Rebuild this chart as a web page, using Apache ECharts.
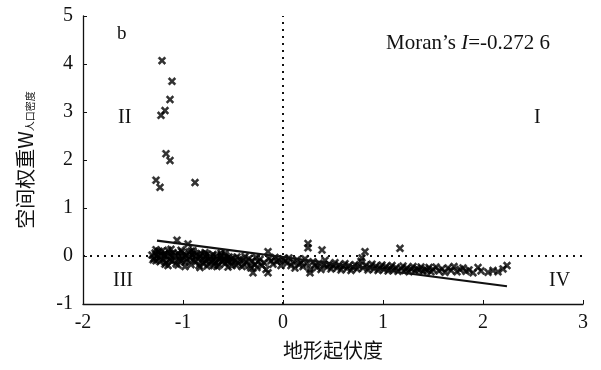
<!DOCTYPE html>
<html><head><meta charset="utf-8">
<script src="https://cdn.jsdelivr.net/npm/echarts@6/dist/echarts.min.js"></script>
<style>html,body{margin:0;padding:0;background:#fff}#c{width:601px;height:370px}</style>
</head><body><div id="c"></div>
<script>
// Outlier points (upper-left quadrant II)
const outX = [-1.21,-1.11,-1.13,-1.18,-1.22,-1.17,-1.13,-1.27,-1.23,-0.88];
const outY = [4.07,3.64,3.26,3.03,2.93,2.13,1.99,1.58,1.43,1.53];
// Main cluster points
const clX = [-1.31,-1.29,-1.28,-1.27,-1.26,-1.25,-1.24,-1.23,-1.22,-1.21,-1.2,-1.19,-1.18,-1.17,-1.16,-1.15,-1.14,-1.13,-1.12,-1.11,-1.1,-1.09,-1.08,-1.07,-1.06,-1.05,-1.04,-1.03,-1.02,-1.01,-1.0,
-0.99,-0.98,-0.97,-0.96,-0.95,-0.94,-0.93,-0.92,-0.91,-0.9,-0.89,-0.88,-0.87,-0.86,-0.85,-0.84,-0.83,-0.82,-0.81,-0.8,-0.79,-0.78,-0.77,-0.76,-0.75,-0.74,-0.73,-0.72,-0.71,-0.7,-0.69,-0.68,-0.67,-0.66,-0.65,-0.64,-0.63,-0.62,-0.61,-0.6,-0.59,-0.58,-0.57,-0.56,-0.55,-0.54,-0.53,-0.52,-0.51,-0.5,
-0.48,-0.46,-0.45,-0.43,-0.41,-0.4,-0.38,-0.36,-0.34,-0.32,-0.31,-0.3,-0.28,-0.27,-0.25,-0.23,-0.21,-0.19,-0.17,-0.15,-0.15,-0.14,-0.12,-0.1,-0.08,-0.06,-0.04,-0.02,0.0,
0.02,0.04,0.06,0.08,0.1,0.12,0.14,0.16,0.18,0.2,0.22,0.24,0.25,0.25,0.27,0.27,0.3,0.32,0.34,0.36,0.38,0.39,0.41,0.42,0.44,0.46,0.48,0.5,
0.52,0.54,0.56,0.58,0.6,0.62,0.64,0.66,0.68,0.7,0.72,0.74,0.76,0.78,0.79,0.8,0.82,0.83,0.85,0.87,0.89,0.91,0.93,0.95,0.97,0.99,
1.01,1.03,1.05,1.07,1.09,1.11,1.13,1.15,1.17,1.18,1.2,1.22,1.24,1.26,1.28,1.3,1.32,1.34,1.36,1.38,1.4,1.42,1.44,1.46,1.48,1.5,
1.53,1.56,1.59,1.62,1.65,1.68,1.71,1.74,1.77,1.8,1.83,1.86,1.9,1.95,1.98,2.05,2.1,2.15,2.2,2.24,
-1.3,-1.24,-1.18,-1.12,-1.05,-0.98,-0.9,-0.83,-0.76,-0.69,-0.62,-0.55,-0.47,-0.39,-0.33,-0.26,-1.27,-1.15,-1.02,-0.92,-0.78,-0.66,-0.58];
const clY = [0.02,-0.05,0.06,-0.1,0.0,0.08,-0.04,-0.12,0.03,0.1,-0.07,0.0,0.05,-0.14,-0.02,0.12,0.04,-0.08,0.0,-0.11,0.07,-0.03,0.02,-0.16,0.33,0.05,-0.06,0.0,-0.1,0.09,-0.02,
0.04,-0.13,0.01,-0.06,0.25,0.08,-0.04,-0.18,0.02,-0.09,0.06,-0.01,-0.12,0.03,-0.05,-0.2,0.0,0.05,-0.08,-0.15,0.02,-0.03,-0.1,0.04,-0.06,-0.17,0.0,-0.04,-0.11,0.03,-0.07,-0.14,-0.02,0.01,-0.09,-0.19,-0.05,0.02,-0.12,-0.03,-0.08,-0.16,0.0,-0.06,-0.1,-0.02,-0.13,-0.07,-0.2,-0.04,
-0.1,-0.02,-0.15,-0.06,-0.22,-0.09,-0.01,-0.13,-0.05,-0.25,-0.1,-0.35,-0.18,-0.03,-0.12,-0.07,-0.2,-0.14,-0.28,0.09,-0.35,-0.05,-0.1,-0.17,-0.03,-0.12,-0.08,-0.2,-0.06,
-0.1,-0.15,-0.04,-0.2,-0.12,-0.25,-0.08,-0.18,-0.13,-0.22,-0.06,-0.16,0.26,0.17,-0.35,-0.28,-0.12,-0.2,-0.24,-0.15,-0.28,0.125,-0.19,-0.09,-0.23,-0.17,-0.27,-0.21,
-0.14,-0.25,-0.19,-0.29,-0.22,-0.16,-0.26,-0.2,-0.3,-0.24,-0.18,-0.27,-0.21,-0.11,-0.04,-0.25,0.09,-0.19,-0.29,-0.23,-0.17,-0.27,-0.21,-0.3,-0.24,-0.19,
-0.28,-0.22,-0.31,-0.25,-0.2,-0.29,-0.24,-0.32,0.16,-0.26,-0.21,-0.3,-0.25,-0.33,-0.27,-0.22,-0.31,-0.26,-0.29,-0.23,-0.32,-0.27,-0.3,-0.24,-0.33,-0.28,
-0.23,-0.31,-0.27,-0.34,-0.25,-0.3,-0.22,-0.33,-0.28,-0.25,-0.32,-0.29,-0.35,-0.24,-0.31,-0.34,-0.3,-0.33,-0.27,-0.2,
-0.08,0.1,-0.17,0.14,-0.19,-0.22,0.11,-0.24,-0.21,-0.2,0.06,-0.23,-0.19,-0.18,-0.21,-0.24,0.13,-0.2,0.12,0.1,0.07,-0.22,0.05];
// Regression line endpoints
const trendX = [-1.26, 2.24];
const trendY = [0.32, -0.63];
// Axis ticks
const xTicks = [-2,-1,0,1,2,3];
const yTicks = [-1,0,1,2,3,4,5];

const pts = outX.map((x,i)=>[x,outY[i]]).concat(clX.map((x,i)=>[x,clY[i]]));
const xMark = 'path://M0,2 L2,0 L5,3 L8,0 L10,2 L7,5 L10,8 L8,10 L5,7 L2,10 L0,8 L3,5 Z';
const serif = 'Liberation Serif';
const chart = echarts.init(document.getElementById('c'));
chart.setOption({
  animation:false,
  backgroundColor:'#fff',
  grid:{left:83,right:18,top:16,bottom:66},
  xAxis:{type:'value',min:xTicks[0],max:xTicks[xTicks.length-1],interval:1,
    name:'地形起伏度',nameLocation:'middle',nameGap:36,
    nameTextStyle:{fontFamily:'Noto Sans CJK SC',fontSize:20,color:'#111'},
    axisLine:{onZero:false,lineStyle:{color:'#111',width:1.3}},
    axisTick:{inside:true,length:4,lineStyle:{color:'#111'}},
    axisLabel:{fontFamily:serif,fontSize:20,color:'#111',margin:9},
    splitLine:{show:false}},
  yAxis:{type:'value',min:yTicks[0],max:yTicks[yTicks.length-1],interval:1,
    name:'{a|空间权重W}{b|人口密度}',nameLocation:'middle',nameGap:48,
    nameTextStyle:{rich:{a:{fontFamily:'Noto Sans CJK SC',fontSize:20,color:'#111'},b:{fontFamily:'Noto Sans CJK SC',fontSize:10,color:'#111',padding:[10,0,0,0]}}},
    axisLine:{onZero:false,lineStyle:{color:'#111',width:1.3}},
    axisTick:{inside:true,length:4,lineStyle:{color:'#111'}},
    axisLabel:{fontFamily:serif,fontSize:20,color:'#111',margin:10},
    splitLine:{show:false}},
  series:[
    {type:'scatter',data:pts,symbol:xMark,symbolSize:8,itemStyle:{color:'#000',borderColor:'#000',borderWidth:0.4},
     markLine:{silent:true,symbol:'none',label:{show:false},
       lineStyle:{type:[2,5],color:'#111',width:2},
       data:[{xAxis:0},{yAxis:0}]}},
    {type:'line',data:trendX.map((x,i)=>[x,trendY[i]]),symbol:'none',
     lineStyle:{color:'#111',width:2.2}}
  ],
  graphic:[
    {type:'text',left:117,top:25,style:{text:'b',fontFamily:serif,fontSize:19,fill:'#111'}},
    {type:'text',left:386,top:33,style:{text:'{n|Moran\u2019s }{i|I}{n|=-0.272 6}',rich:{n:{fontFamily:serif,fontSize:21,fill:'#111'},i:{fontFamily:serif,fontSize:21,fontStyle:'italic',fill:'#111'}}}},
    {type:'text',left:118,top:108,style:{text:'II',fontFamily:serif,fontSize:20,fill:'#111'}},
    {type:'text',left:534,top:108,style:{text:'I',fontFamily:serif,fontSize:20,fill:'#111'}},
    {type:'text',left:113,top:271,style:{text:'III',fontFamily:serif,fontSize:20,fill:'#111'}},
    {type:'text',left:549,top:271,style:{text:'IV',fontFamily:serif,fontSize:20,fill:'#111'}}
  ]
});
</script></body></html>
